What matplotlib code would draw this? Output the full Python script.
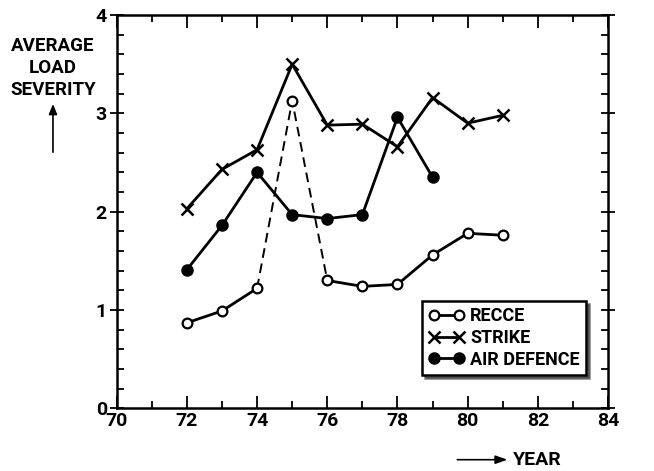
import numpy as np
import matplotlib
matplotlib.use("Agg")
from matplotlib import pyplot as plt
from matplotlib.ticker import MultipleLocator

plt.rcParams["font.family"] = ["Roboto", "DejaVu Sans"]
plt.rcParams["font.weight"] = "bold"

years = np.arange(72, 82)
recce = [0.87, 0.99, 1.22, 3.13, 1.30, 1.24, 1.26, 1.56, 1.78, 1.76]
strike = [2.03, 2.43, 2.63, 3.50, 2.88, 2.89, 2.66, 3.16, 2.90, 2.98]
air_def_years = np.arange(72, 80)
air_defence = [1.41, 1.86, 2.40, 1.97, 1.93, 1.97, 2.96, 2.35]

fig = plt.figure(figsize=(6.54, 4.71), dpi=100)
ax = fig.add_axes([0.1784, 0.1331, 0.7514, 0.835])

lw = 2.0
# recce: solid except the dashed spike around 75
ax.plot(years[:3], recce[:3], "k-", lw=lw, zorder=2)
ax.plot(years[2:5], recce[2:5], "k--", lw=1.4, dashes=(5, 3), zorder=2)
ax.plot(years[4:], recce[4:], "k-", lw=lw, zorder=2)
ax.plot(years, recce, "o", ls="none", ms=7, mfc="white", mec="black",
        mew=1.6, zorder=3)
l_recce, = ax.plot([], [], "k-o", lw=lw, ms=7, mfc="white", mec="black",
                   mew=1.6, label="RECCE")

l_strike, = ax.plot(years, strike, "k-x", lw=lw, ms=9, mew=1.8,
                    label="STRIKE", zorder=3)
l_air, = ax.plot(air_def_years, air_defence, "k-o", lw=lw, ms=8,
                 mfc="black", label="AIR DEFENCE", zorder=3)

ax.set_xlim(70, 84)
ax.set_ylim(0, 4)
ax.xaxis.set_major_locator(MultipleLocator(2))
ax.xaxis.set_minor_locator(MultipleLocator(1))
ax.yaxis.set_major_locator(MultipleLocator(1))
ax.yaxis.set_minor_locator(MultipleLocator(0.2))
ax.tick_params(which="both", direction="in", top=True, right=True,
               width=1.3, labelsize=14)
ax.tick_params(which="major", length=9)
ax.tick_params(which="minor", length=5)
ax.tick_params(axis="y", which="major", direction="inout", length=10, pad=2)
ax.tick_params(axis="x", pad=3)
for s in ax.spines.values():
    s.set_linewidth(1.8)
for lab in ax.get_xticklabels() + ax.get_yticklabels():
    lab.set_fontweight("bold")

leg = ax.legend(handles=[l_recce, l_strike, l_air], loc="lower right",
                bbox_to_anchor=(0.955, 0.085), numpoints=2, fancybox=False,
                shadow={"color": "black"}, edgecolor="black", framealpha=1,
                prop={"size": 13, "weight": "bold"}, handlelength=2.0,
                handletextpad=0.3, borderpad=0.35, labelspacing=0.2,
                borderaxespad=0)
leg.get_frame().set_linewidth(1.8)

fig.text(0.081, 0.855, "AVERAGE\nLOAD\nSEVERITY", ha="center", va="center",
         fontsize=13.5, fontweight="bold", linespacing=1.3)
fig.patches.append(matplotlib.patches.FancyArrowPatch(
    (0.081, 0.671), (0.081, 0.785), transform=fig.transFigure,
    arrowstyle="-|>,head_length=6,head_width=2.5", color="black", lw=1.2))

fig.patches.append(matplotlib.patches.FancyArrowPatch(
    (0.695, 0.024), (0.78, 0.024), transform=fig.transFigure,
    arrowstyle="-|>,head_length=7,head_width=2.5", color="black", lw=1.2))
fig.text(0.785, 0.024, "YEAR", ha="left", va="center", fontsize=14,
         fontweight="bold")

fig.savefig("out.png", dpi=100)
